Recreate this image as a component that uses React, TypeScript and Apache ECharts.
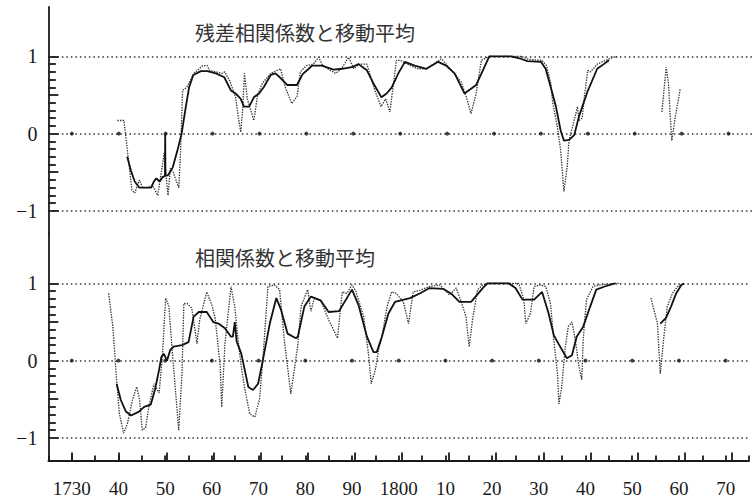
import React, { useEffect, useRef } from 'react';
import * as echarts from 'echarts';

const X_MIN = 1725;
const X_MAX = 1875;
const Y_MIN = -1.3;
const Y_MAX = 1.64;

const topTitle = '残差相関係数と移動平均';
const bottomTitle = '相関係数と移動平均';

const decades = [1730, 1740, 1750, 1760, 1770, 1780, 1790, 1800, 1810, 1820, 1830, 1840, 1850, 1860, 1870];
const yTickValues = [-1, -0.9, -0.8, -0.7, -0.6, -0.5, -0.4, -0.3, -0.2, -0.1, 0, 0.1, 0.2, 0.3, 0.4, 0.5, 0.6, 0.7, 0.8, 0.9, 1];
const yLabelValues = [-1, 0, 1];
const gridLineValues = [1, 0, -1];

// 残差相関係数 (dotted)
const topRawA: [number, number][] = [
  [1739.7, 0.17], [1741.1, 0.17], [1742.0, -0.3], [1742.8, -0.73], [1743.4, -0.77], [1744.4, -0.6],
  [1745.1, -0.7], [1746.2, -0.7], [1747.2, -0.67], [1748.3, -0.8], [1749.2, -0.45], [1749.7, -0.25],
  [1750.1, -0.55], [1750.5, -0.8], [1751.0, -0.45], [1751.6, -0.5], [1752.2, -0.6], [1752.8, -0.7],
  [1753.2, -0.2], [1753.6, 0.56], [1754.5, 0.6], [1756.0, 0.78], [1757.9, 0.88], [1758.9, 0.88],
  [1759.3, 0.82], [1762.1, 0.78], [1762.6, 0.8], [1763.7, 0.68], [1764.9, 0.47], [1765.6, 0.17],
  [1766.0, 0.02], [1766.4, 0.3], [1766.8, 0.78], [1767.4, 0.45], [1768.8, 0.17], [1769.6, 0.5],
  [1770.6, 0.65], [1772.4, 0.78], [1774.5, 0.84], [1775.5, 0.6], [1776.9, 0.39], [1778.0, 0.48],
  [1778.7, 0.8], [1780.0, 0.88], [1781.5, 0.9], [1782.6, 0.99], [1783.5, 0.88], [1786.2, 0.78],
  [1787.5, 0.84], [1789.0, 0.99], [1790.1, 0.84], [1791.2, 0.9], [1792.9, 0.9], [1794.6, 0.56],
  [1795.9, 0.35], [1796.9, 0.45], [1797.8, 0.28], [1799.2, 0.95], [1800.0, 0.95], [1801.5, 0.9],
  [1803.8, 0.84], [1805.5, 0.84], [1808.8, 0.97], [1811.2, 0.8], [1813.0, 0.67], [1814.1, 0.47],
  [1815.1, 0.26], [1816.2, 0.52], [1817.3, 0.95], [1819.0, 1.0], [1825.9, 1.0], [1827.5, 0.96],
  [1830.2, 0.95], [1831.2, 0.88], [1832.1, 0.65], [1832.5, 0.41], [1833.5, 0.09], [1834.2, -0.21],
  [1834.9, -0.75], [1835.6, -0.43], [1836.0, -0.08], [1836.8, 0.1], [1837.8, 0.35], [1838.1, 0.17],
  [1838.8, 0.2], [1839.3, 0.5], [1840.0, 0.82], [1840.6, 0.8], [1842.0, 0.9], [1843.8, 0.95],
  [1845.5, 0.99], [1846.5, 1.0],
];
const topRawB: [number, number][] = [
  [1855.8, 0.28], [1856.7, 0.86], [1857.2, 0.65], [1857.5, 0.3], [1857.9, -0.09], [1858.6, 0.2], [1859.7, 0.58],
];
// 移動平均 (solid)
const topAvg: [number, number][] = [
  [1741.8, -0.3], [1742.6, -0.48], [1743.4, -0.62], [1744.4, -0.7], [1745.5, -0.7], [1746.9, -0.7],
  [1747.5, -0.62], [1748.0, -0.58], [1748.7, -0.62], [1749.4, -0.56], [1749.85, -0.55], [1749.9, 0.0],
  [1749.95, -0.54], [1750.5, -0.54], [1751.5, -0.44], [1752.5, -0.22], [1753.4, 0.0], [1754.3, 0.35],
  [1755.0, 0.6], [1755.9, 0.76], [1757.5, 0.81], [1758.9, 0.81], [1760.7, 0.78], [1762.5, 0.73],
  [1763.9, 0.56], [1764.9, 0.52], [1766.0, 0.45], [1766.7, 0.35], [1767.8, 0.35], [1768.8, 0.47],
  [1769.9, 0.52], [1770.9, 0.6], [1772.4, 0.76], [1773.4, 0.78], [1774.5, 0.72], [1775.9, 0.63],
  [1778.0, 0.63], [1779.2, 0.77], [1780.5, 0.84], [1781.2, 0.88], [1783.3, 0.88], [1785.8, 0.83],
  [1787.6, 0.84], [1789.7, 0.86], [1791.1, 0.9], [1792.9, 0.82], [1794.3, 0.65], [1796.0, 0.47],
  [1797.1, 0.52], [1798.2, 0.6], [1799.6, 0.78], [1801.0, 0.93], [1803.1, 0.88], [1805.6, 0.84],
  [1808.1, 0.93], [1809.8, 0.88], [1811.6, 0.78], [1813.7, 0.52], [1816.2, 0.63], [1819.0, 1.0],
  [1823.6, 1.0], [1825.7, 0.97], [1827.1, 0.94], [1830.0, 0.93], [1831.0, 0.84], [1832.1, 0.6],
  [1833.2, 0.35], [1834.2, 0.04], [1834.9, -0.09], [1836.0, -0.08], [1837.1, -0.02], [1838.1, 0.22],
  [1839.9, 0.54], [1842.0, 0.84], [1843.4, 0.9], [1844.5, 0.95],
];

// 相関係数 (dotted)
const bottomRawA: [number, number][] = [
  [1737.9, 0.87], [1738.8, 0.44], [1739.5, -0.17], [1740.2, -0.69], [1741.1, -0.94], [1741.9, -0.82],
  [1743.0, -0.51], [1743.9, -0.34], [1744.5, -0.5], [1745.1, -0.9], [1745.8, -0.87], [1746.5, -0.6],
  [1747.6, -0.3], [1748.7, -0.42], [1749.4, 0.05], [1750.1, 0.81], [1750.8, 0.7], [1751.5, 0.14],
  [1752.2, -0.38], [1752.9, -0.9], [1753.6, -0.17], [1754.0, 0.74], [1754.7, 0.74], [1755.7, 0.68],
  [1756.8, 0.22], [1757.4, 0.53], [1758.9, 0.89], [1760.0, 0.72], [1760.7, 0.55], [1761.8, -0.08],
  [1762.1, -0.6], [1762.8, 0.22], [1764.1, 0.96], [1764.9, 0.7], [1765.6, 0.27], [1766.3, -0.08],
  [1767.0, -0.35], [1768.1, -0.69], [1769.2, -0.73], [1770.2, -0.5], [1770.9, 0.0], [1772.0, 0.96],
  [1773.4, 0.98], [1774.5, 0.92], [1775.5, 0.27], [1776.9, -0.43], [1778.4, 0.2], [1779.1, 0.7],
  [1780.5, 0.92], [1781.2, 0.64], [1781.9, 0.8], [1783.3, 0.78], [1785.0, 0.53], [1786.9, 0.29],
  [1787.9, 0.89], [1788.9, 0.87], [1790.0, 0.98], [1790.8, 0.9], [1792.5, 0.57], [1793.6, 0.05],
  [1794.1, -0.3], [1795.0, -0.12], [1795.7, 0.14], [1796.4, 0.31], [1797.5, 0.7], [1798.5, 0.89],
  [1799.5, 0.87], [1801.0, 0.76], [1802.1, 0.48], [1803.1, 0.89], [1804.5, 0.91], [1806.6, 0.96],
  [1808.8, 0.98], [1810.9, 0.85], [1812.3, 0.94], [1813.4, 0.76], [1814.4, 0.57], [1815.1, 0.18],
  [1815.8, 0.53], [1816.9, 0.92], [1818.0, 0.98], [1819.0, 1.0], [1825.7, 1.0], [1826.8, 0.79],
  [1827.2, 0.48], [1828.2, 0.61], [1829.0, 0.96], [1830.2, 0.98], [1831.5, 0.96], [1832.5, 0.74],
  [1833.2, 0.27], [1834.0, -0.17], [1834.3, -0.56], [1834.9, -0.34], [1835.6, 0.14], [1836.3, 0.44],
  [1837.1, 0.5], [1837.8, 0.27], [1838.6, -0.08], [1839.2, -0.25], [1839.5, 0.27], [1840.2, 0.79],
  [1841.6, 0.96], [1843.0, 0.98], [1846.3, 1.0], [1847.5, 1.0],
];
const bottomRawB: [number, number][] = [
  [1854.0, 0.81], [1855.4, 0.48], [1856.0, -0.17], [1856.7, 0.27], [1857.5, 0.7], [1858.6, 0.87],
  [1859.7, 0.96], [1861.1, 1.0],
];
// 移動平均 (solid)
const bottomAvgA: [number, number][] = [
  [1739.6, -0.3], [1740.5, -0.51], [1741.6, -0.66], [1742.7, -0.71], [1744.4, -0.66], [1745.5, -0.6],
  [1746.9, -0.57], [1747.8, -0.38], [1748.7, -0.12], [1749.2, 0.05], [1749.7, 0.09], [1750.4, 0.0],
  [1751.1, 0.14], [1751.8, 0.18], [1753.6, 0.2], [1755.0, 0.24], [1756.1, 0.57], [1757.2, 0.63],
  [1758.9, 0.63], [1760.3, 0.5], [1761.4, 0.48], [1762.8, 0.42], [1764.1, 0.31], [1764.5, 0.31],
  [1764.9, 0.5], [1765.3, 0.25], [1766.3, 0.09], [1767.8, -0.34], [1768.8, -0.38], [1769.9, -0.3],
  [1770.9, 0.0], [1772.4, 0.48], [1773.8, 0.81], [1774.8, 0.66], [1776.2, 0.35], [1778.0, 0.29],
  [1778.4, 0.31], [1779.8, 0.7], [1781.2, 0.83], [1783.3, 0.78], [1785.0, 0.63], [1787.2, 0.64],
  [1790.0, 0.92], [1791.4, 0.72], [1793.2, 0.31], [1794.6, 0.11], [1795.3, 0.11], [1796.4, 0.31],
  [1797.8, 0.61], [1799.2, 0.76], [1802.4, 0.81], [1804.5, 0.87], [1806.6, 0.94], [1809.5, 0.93],
  [1811.2, 0.87], [1813.0, 0.76], [1815.5, 0.76], [1818.0, 0.94], [1819.0, 1.0], [1823.6, 1.0],
  [1825.0, 0.94], [1826.5, 0.79], [1829.0, 0.79], [1830.7, 0.89], [1832.1, 0.61], [1833.2, 0.33],
  [1834.2, 0.22], [1836.0, 0.03], [1837.1, 0.07], [1838.1, 0.31], [1839.5, 0.44], [1841.0, 0.7],
  [1842.3, 0.92], [1844.1, 0.96], [1846.3, 1.0],
];
const bottomAvgB: [number, number][] = [
  [1856.0, 0.48], [1857.2, 0.55], [1858.3, 0.7], [1859.4, 0.87], [1860.5, 0.98], [1861.1, 1.0],
];

const SERIF = '"Liberation Serif", "Times New Roman", serif';
const CJK = '"Noto Sans CJK JP", "Noto Sans CJK SC", sans-serif';
const AXIS_COLOR = '#1a1a1a';

const LEFT = 48.4;
const WIDTH = 707.1;
const PANEL_H = 227;
const PX_PER_YEAR = WIDTH / (X_MAX - X_MIN);

function xLabel(v: number): string {
  const r = Math.round(v);
  if (decades.indexOf(r) < 0) return '';
  if (r === 1730 || r === 1800) return String(r);
  return String(r % 100).padStart(2, '0');
}

function yLabel(v: number): string {
  const r = Math.round(v * 10) / 10;
  for (const l of yLabelValues) {
    if (Math.abs(r - l) < 1e-6) return l < 0 ? '\u2212' + Math.abs(l) : String(l);
  }
  return '';
}

function rawLine(data: [number, number][], idx: number, withGrid: boolean) {
  const s: any = {
    type: 'line',
    xAxisIndex: idx,
    yAxisIndex: idx,
    data,
    showSymbol: false,
    symbol: 'none',
    silent: true,
    z: 3,
    lineStyle: { color: '#333', width: 1.3, type: [1.4, 1.2] },
  };
  if (withGrid) {
    s.markLine = {
      silent: true,
      symbol: ['none', 'none'],
      label: { show: false },
      lineStyle: { color: '#333', width: 1.5, type: [1.5, 3] },
      data: gridLineValues.map((v) => ({ yAxis: v })),
      z: 1,
    };
  }
  return s;
}

function avgLine(data: [number, number][], idx: number) {
  return {
    type: 'line',
    xAxisIndex: idx,
    yAxisIndex: idx,
    data,
    showSymbol: false,
    symbol: 'none',
    silent: true,
    z: 4,
    lineStyle: { color: '#111', width: 1.8 },
  };
}

// decade dots on the zero line, plus the y-axis tick marks (short mark lines in data space)
function dotsAndTicks(idx: number) {
  return {
    type: 'scatter',
    xAxisIndex: idx,
    yAxisIndex: idx,
    data: decades.map((d) => [d, 0]),
    symbol: 'circle',
    symbolSize: 4,
    silent: true,
    z: 2,
    itemStyle: { color: '#111' },
    markLine: {
      silent: true,
      symbol: ['none', 'none'],
      label: { show: false },
      data: yTickValues.map((v) => {
        const major = Math.abs(v * 2 - Math.round(v * 2)) < 1e-6;
        const len = (major ? 10 : 7.5) / PX_PER_YEAR;
        return [
          { coord: [X_MIN, v], lineStyle: { color: AXIS_COLOR, width: 1.8, type: 'solid' } },
          { coord: [X_MIN + len, v] },
        ];
      }),
    },
  };
}

export default function App() {
  const ref = useRef<HTMLDivElement>(null);
  useEffect(() => {
    if (!ref.current) return;
    const chart = echarts.init(ref.current, null, { renderer: 'svg' });
    const panelTops = [7, 234];
    const grids: any[] = [
      { left: LEFT, top: panelTops[0], width: WIDTH, height: PANEL_H },
      { left: LEFT, top: panelTops[1], width: WIDTH, height: PANEL_H },
      // decade tick panel spanning 1730..1870 at the bottom
      {
        left: LEFT + (1730 - X_MIN) * PX_PER_YEAR,
        width: (1870 - 1730) * PX_PER_YEAR,
        top: panelTops[1],
        height: PANEL_H,
      },
    ];
    const xAxis: any[] = [
      { type: 'value', gridIndex: 0, min: X_MIN, max: X_MAX, show: false },
      {
        type: 'value',
        gridIndex: 1,
        min: X_MIN,
        max: X_MAX,
        interval: 5,
        axisLine: { show: true, onZero: false, lineStyle: { color: AXIS_COLOR, width: 1.8 } },
        axisTick: { show: true, inside: true, length: 5.5, lineStyle: { color: AXIS_COLOR, width: 1.8 } },
        splitLine: { show: false },
        axisLabel: {
          formatter: xLabel,
          margin: 18,
          fontSize: 19,
          fontFamily: SERIF,
          color: AXIS_COLOR,
        },
      },
      {
        type: 'value',
        gridIndex: 2,
        min: 1730,
        max: 1870,
        interval: 10,
        axisLine: { show: false, onZero: false },
        axisTick: { show: true, inside: true, length: 8.5, lineStyle: { color: AXIS_COLOR, width: 1.8 } },
        axisLabel: { show: false },
        splitLine: { show: false },
      },
    ];
    const dataY = (g: number) => ({
      type: 'value',
      gridIndex: g,
      min: Y_MIN,
      max: Y_MAX,
      interval: 0.1,
      axisLine: { show: true, onZero: false, lineStyle: { color: AXIS_COLOR, width: 1.8 } },
      axisTick: { show: false },
      splitLine: { show: false },
      axisLabel: {
        formatter: yLabel,
        margin: 11,
        fontSize: 20,
        fontFamily: SERIF,
        color: AXIS_COLOR,
        padding: [5, 0, 0, 0],
        showMinLabel: false,
        showMaxLabel: false,
      },
    });
    const yAxis: any[] = [
      dataY(0),
      dataY(1),
      { type: 'value', gridIndex: 2, min: Y_MIN, max: Y_MAX, show: false },
    ];
    chart.setOption({
      animation: false,
      backgroundColor: '#fff',
      grid: grids,
      xAxis,
      yAxis,
      graphic: [
        { type: 'text', left: 195, top: 22, style: { text: topTitle, font: `20px ${CJK}`, fill: '#333' } },
        { type: 'text', left: 195, top: 247, style: { text: bottomTitle, font: `20px ${CJK}`, fill: '#333' } },
      ],
      series: [
        rawLine(topRawA, 0, true),
        rawLine(topRawB, 0, false),
        avgLine(topAvg, 0),
        dotsAndTicks(0),
        rawLine(bottomRawA, 1, true),
        rawLine(bottomRawB, 1, false),
        avgLine(bottomAvgA, 1),
        avgLine(bottomAvgB, 1),
        dotsAndTicks(1),
      ],
    });
    return () => chart.dispose();
  }, []);
  return (
    <div
      ref={ref}
      style={{ position: 'absolute', left: 0, top: 0, width: 752, height: 499, background: '#fff' }}
    />
  );
}
